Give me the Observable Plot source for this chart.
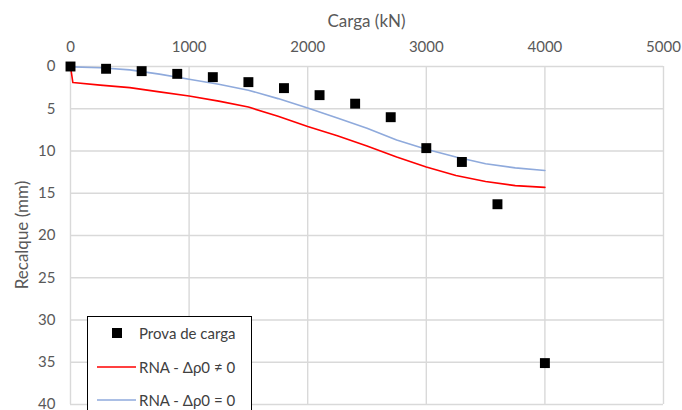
<!DOCTYPE html>
<html>
<head>
<meta charset="utf-8">
<script src="https://cdn.jsdelivr.net/npm/d3@7"></script>
<script src="https://cdn.jsdelivr.net/npm/@observablehq/plot@0.6"></script>
<style>
  html, body { margin: 0; padding: 0; background: #fff; }
  #chart { position: relative; width: 682px; height: 410px; overflow: hidden; font-family: Lato, "Open Sans", sans-serif; }
  #legend {
    position: absolute; left: 87px; top: 316px; width: 165px; height: 110px;
    background: #fff; border: 1px solid #000; box-sizing: border-box;
    font-size: 15px; color: #404040;
  }
  .item { position: absolute; left: 0; display: flex; align-items: center; height: 20px; }
  .key { width: 48px; display: flex; justify-content: flex-end; align-items: center; }
  .label { margin-left: 3px; white-space: nowrap; }
</style>
</head>
<body>
<div id="chart"></div>
<script>
// Load test (prova de carga): load in kN and measured settlement in mm
const testLoads = [0, 300, 600, 900, 1200, 1500, 1800, 2100, 2400, 2700, 3000, 3300, 3600, 4000];
const testSettlements = [0, 0.27, 0.55, 0.87, 1.26, 1.85, 2.56, 3.39, 4.4, 6.0, 9.66, 11.3, 16.3, 35.1];

// Neural network predictions (RNA) along the load range
const curveLoads = [0, 20, 250, 500, 750, 1000, 1250, 1500, 1750, 2000, 2250, 2500, 2750, 3000, 3250, 3500, 3750, 4000];
const rnaNonZero = [0, 1.9, 2.2, 2.5, 3.0, 3.5, 4.1, 4.8, 5.9, 7.1, 8.2, 9.4, 10.7, 11.9, 12.9, 13.6, 14.1, 14.3];
const rnaZero = [0, 0.05, 0.15, 0.4, 0.9, 1.5, 2.1, 2.8, 3.8, 4.9, 6.1, 7.3, 8.7, 9.8, 10.7, 11.5, 12.0, 12.3];

const xTicks = [0, 1000, 2000, 3000, 4000, 5000];
const yTicks = [0, 5, 10, 15, 20, 25, 30, 35, 40];

const seriesNames = ["Prova de carga", "RNA - \u0394\u03c10 \u2260 0", "RNA - \u0394\u03c10 = 0"];
const seriesColors = ["#000000", "#ff0000", "#8faadc"];

const testData = testLoads.map((x, i) => ({x, y: testSettlements[i]}));
const redData = curveLoads.map((x, i) => ({x, y: rnaNonZero[i]}));
const blueData = curveLoads.map((x, i) => ({x, y: rnaZero[i]}));

const gridColor = "#d9d9d9";
const textColor = "#595959";

const chart = Plot.plot({
  width: 682,
  height: 410,
  marginLeft: 70,
  marginRight: 19,
  marginTop: 66,
  marginBottom: 6,
  style: {fontFamily: "Lato, 'Open Sans', sans-serif", fontSize: "15px", color: textColor, background: "#fff"},
  x: {domain: [0, 5000]},
  y: {domain: [0, 40], reverse: true},
  marks: [
    Plot.gridX(xTicks, {stroke: gridColor, strokeOpacity: 1, strokeWidth: 1.4}),
    Plot.gridY(yTicks, {stroke: gridColor, strokeOpacity: 1, strokeWidth: 1.4}),
    Plot.axisX(xTicks, {anchor: "top", tickSize: 0, tickPadding: 15, fontSize: 15, fill: textColor,
      tickFormat: d3.format("d"), label: null}),
    Plot.axisY(yTicks, {anchor: "left", tickSize: 0, tickPadding: 15, fontSize: 15, fill: textColor,
      tickFormat: d3.format("d"), label: null}),
    Plot.line(blueData, {x: "x", y: "y", stroke: seriesColors[2], strokeWidth: 1.6}),
    Plot.line(redData, {x: "x", y: "y", stroke: seriesColors[1], strokeWidth: 1.6}),
    Plot.dot(testData, {x: "x", y: "y", symbol: "square", r: 5.6, fill: seriesColors[0], stroke: "none"})
  ]
});

const root = document.getElementById("chart");
root.appendChild(chart);

// Axis titles, drawn into the same SVG
const svg = d3.select(chart);
svg.append("text")
  .attr("x", (70 + 663) / 2).attr("y", 20)
  .attr("text-anchor", "middle").attr("dominant-baseline", "central")
  .attr("font-size", 17).attr("fill", textColor)
  .text("Carga (kN)");
svg.append("text")
  .attr("transform", `translate(21, ${(66 + 404) / 2}) rotate(-90)`)
  .attr("text-anchor", "middle").attr("dominant-baseline", "central")
  .attr("font-size", 17).attr("fill", textColor)
  .text("Recalque (mm)");

// Legend box inside the plot area
const legend = document.createElement("div");
legend.id = "legend";
const keys = [
  `<svg width="12" height="12"><rect x="1" y="1" width="10" height="10" fill="${seriesColors[0]}"/></svg><span style="display:inline-block;width:13px"></span>`,
  `<svg width="39" height="4"><line x1="0" x2="39" y1="2" y2="2" stroke="${seriesColors[1]}" stroke-width="1.6"/></svg>`,
  `<svg width="39" height="4"><line x1="0" x2="39" y1="2" y2="2" stroke="${seriesColors[2]}" stroke-width="1.6"/></svg>`
];
const tops = [6, 40, 73];
seriesNames.forEach((name, i) => {
  const item = document.createElement("div");
  item.className = "item";
  item.style.top = tops[i] + "px";
  item.innerHTML = `<div class="key">${keys[i]}</div><span class="label">${name}</span>`;
  legend.appendChild(item);
});
root.appendChild(legend);
</script>
</body>
</html>
